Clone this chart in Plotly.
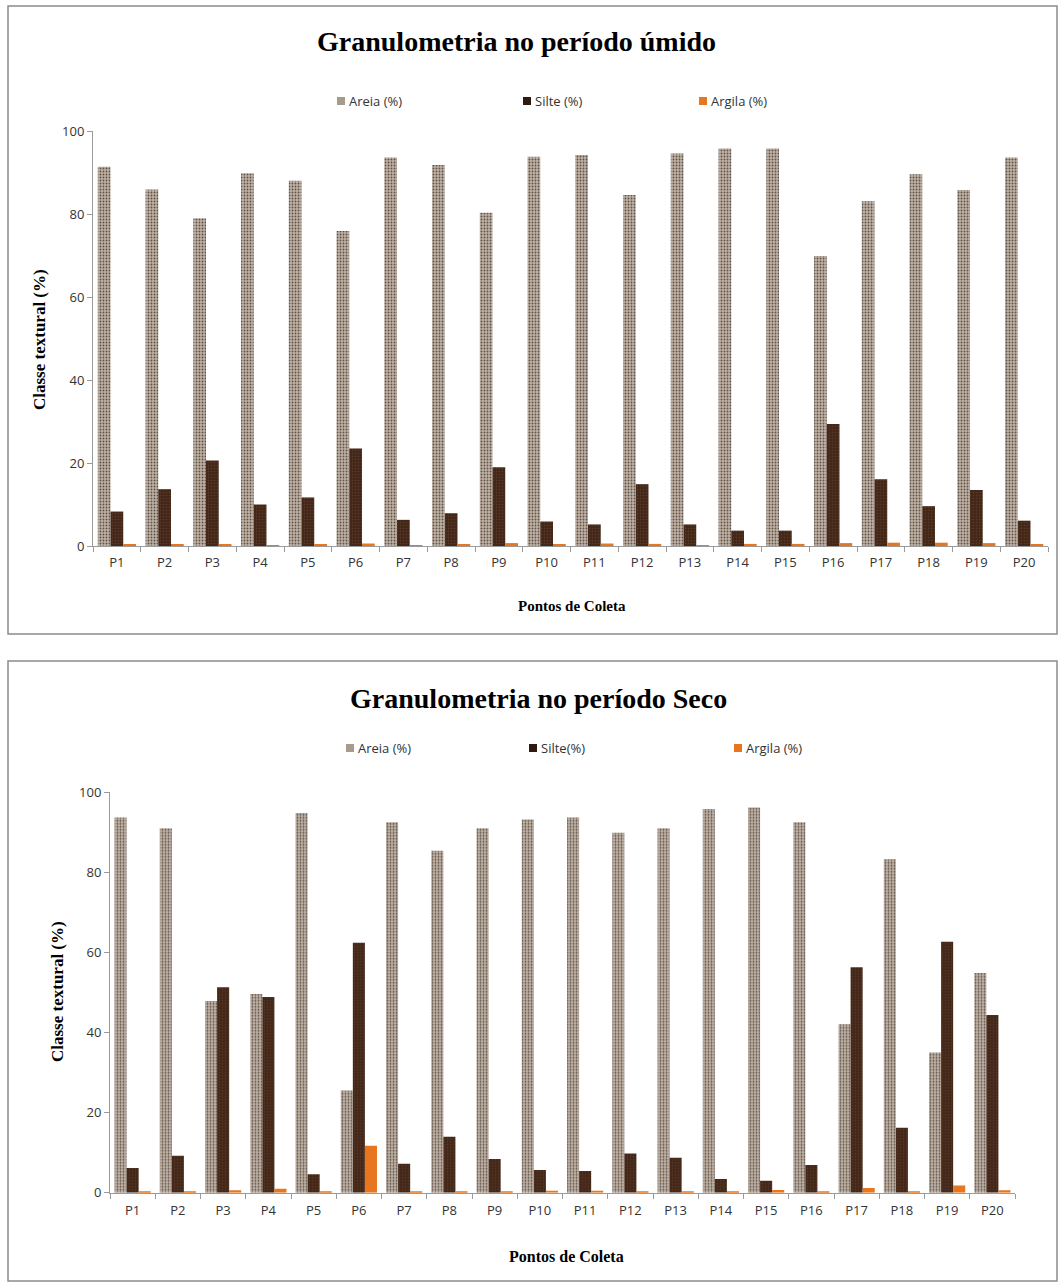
import plotly.graph_objects as go

# Sampling points
pontos = [f"P{i}" for i in range(1, 21)]

# Wet season (período úmido), %
areia_umido = [91.4, 85.9, 79.0, 89.8, 88.0, 75.9, 93.6, 91.8, 80.3, 93.8,
               94.2, 84.6, 94.6, 95.8, 95.8, 69.9, 83.1, 89.6, 85.8, 93.6]
silte_umido = [8.3, 13.7, 20.6, 10.0, 11.7, 23.5, 6.3, 7.9, 19.0, 5.9,
               5.2, 14.9, 5.2, 3.7, 3.7, 29.4, 16.1, 9.6, 13.5, 6.1]
argila_umido = [0.3, 0.4, 0.4, 0.2, 0.3, 0.6, 0.1, 0.3, 0.7, 0.3,
                0.6, 0.5, 0.2, 0.5, 0.5, 0.7, 0.8, 0.8, 0.7, 0.3]

# Dry season (período seco), %
areia_seco = [93.7, 91.0, 47.9, 49.6, 94.8, 25.5, 92.5, 85.4, 91.0, 93.2,
              93.7, 89.9, 91.0, 95.8, 96.2, 92.5, 42.1, 83.3, 35.0, 54.9]
silte_seco = [6.2, 9.2, 51.3, 48.9, 4.6, 62.4, 7.2, 14.0, 8.4, 5.7,
              5.4, 9.8, 8.7, 3.4, 3.0, 6.9, 56.3, 16.2, 62.7, 44.4]
argila_seco = [0.2, 0.2, 0.6, 1.0, 0.2, 11.7, 0.2, 0.2, 0.2, 0.5,
               0.5, 0.3, 0.2, 0.2, 0.7, 0.2, 1.2, 0.2, 1.8, 0.6]

yticks = [0, 20, 40, 60, 80, 100]
series_umido = ["Areia (%)", "Silte (%)", "Argila (%)"]
series_seco = ["Areia (%)", "Silte(%)", "Argila (%)"]

W, H = 1059, 1283


def px(y):
    """pixel row -> paper y"""
    return 1 - y / H


def pxx(x):
    return x / W


AREIA_COLOR = "#b3a597"
SILTE_COLOR = "#4a2d1c"
ARGILA_COLOR = "#e8761e"

# speckled sand fill, dark silt fill, flat clay fill
AREIA_STYLE = dict(color=AREIA_COLOR, line=dict(width=0),
                   pattern=dict(shape=".", fgcolor="#5e5046", bgcolor="#c0b3a6",
                                size=3, solidity=0.3))
SILTE_STYLE = dict(color=SILTE_COLOR, line=dict(width=0),
                   pattern=dict(shape=".", fgcolor="#5c3a26", bgcolor="#43281a",
                                size=3, solidity=0.2))
ARGILA_STYLE = dict(color=ARGILA_COLOR, line=dict(width=0))

fig = go.Figure()

panels = [
    ("x", "y", series_umido, areia_umido, silte_umido, argila_umido),
    ("x2", "y2", series_seco, areia_seco, silte_seco, argila_seco),
]
for xa, ya, names, a, s, g in panels:
    for name, vals, style in zip(names, [a, s, g], [AREIA_STYLE, SILTE_STYLE, ARGILA_STYLE]):
        fig.add_trace(go.Bar(x=pontos, y=vals, name=name, xaxis=xa, yaxis=ya,
                             marker=style, showlegend=False))

axis_common = dict(showgrid=False, zeroline=False, showline=True, automargin=False,
                   linecolor="#9a9a9a", linewidth=1, ticks="outside",
                   tickcolor="#9a9a9a", ticklen=5,
                   tickfont=dict(family="Open Sans", size=13, color="#333333"))

fig.update_layout(
    template="none",
    width=W, height=H, autosize=False,
    margin=dict(l=0, r=0, t=0, b=0, pad=0),
    paper_bgcolor="white", plot_bgcolor="white",
    barmode="group", bargap=0.2, bargroupgap=0,
    showlegend=False,
    xaxis=dict(domain=[pxx(93), pxx(1048)], anchor="y", type="category",
               tickson="boundaries", ticklabelstandoff=4, **axis_common),
    yaxis=dict(domain=[px(546), px(131)], anchor="x", range=[0, 100],
               tickvals=yticks, **axis_common),
    xaxis2=dict(domain=[pxx(110), pxx(1015)], anchor="y2", type="category",
                tickson="boundaries", ticklabelstandoff=6, **axis_common),
    yaxis2=dict(domain=[px(1192.7), px(792.3)], anchor="x2", range=[0, 100],
                tickvals=yticks, **axis_common),
)

# frames around each chart
fig.add_shape(type="rect", xref="paper", yref="paper",
              x0=pxx(8), x1=pxx(1057), y0=px(634), y1=px(6),
              line=dict(color="#8c8c8c", width=1.5))
fig.add_shape(type="rect", xref="paper", yref="paper",
              x0=pxx(8), x1=pxx(1057), y0=px(1281), y1=px(661),
              line=dict(color="#8c8c8c", width=1.5))

# series keys: swatch position (left x) and row per chart
legend_rows = [
    (101, series_umido, [337, 523, 699]),
    (748, series_seco, [346, 529, 734]),
]
swatch_colors = ["#a89a8c", "#2e1a10", ARGILA_COLOR]
for yrow, names, xs in legend_rows:
    for name, x0, col in zip(names, xs, swatch_colors):
        fig.add_shape(type="rect", xref="paper", yref="paper",
                      x0=pxx(x0), x1=pxx(x0 + 8), y0=px(yrow + 4), y1=px(yrow - 4),
                      fillcolor=col, line=dict(width=0))
        fig.add_annotation(text=name, xref="paper", yref="paper", showarrow=False,
                           x=pxx(x0 + 10), y=px(yrow), xanchor="left", yanchor="middle",
                           font=dict(family="Open Sans", size=13, color="#333333"))

title_font = dict(family="Liberation Serif", size=28, color="black")
label_font = dict(family="Liberation Serif", size=17, color="black")

annotations = [
    dict(text="<b>Granulometria no período úmido</b>", x=pxx(516), y=px(42), font=title_font),
    dict(text="<b>Granulometria no período Seco</b>", x=pxx(538), y=px(698), font=title_font),
    dict(text="<b>Pontos de Coleta</b>", x=pxx(572), y=px(606), font=dict(label_font, size=15)),
    dict(text="<b>Pontos de Coleta</b>", x=pxx(566), y=px(1256), font=dict(label_font, size=16)),
    dict(text="<b>Classe textural (%)</b>", x=pxx(40), y=px(340), textangle=-90, font=label_font),
    dict(text="<b>Classe textural (%)</b>", x=pxx(57), y=px(992), textangle=-90, font=label_font),
]
for a in annotations:
    fig.add_annotation(xref="paper", yref="paper", showarrow=False,
                       xanchor="center", yanchor="middle", **a)

fig.write_html("out.html")
